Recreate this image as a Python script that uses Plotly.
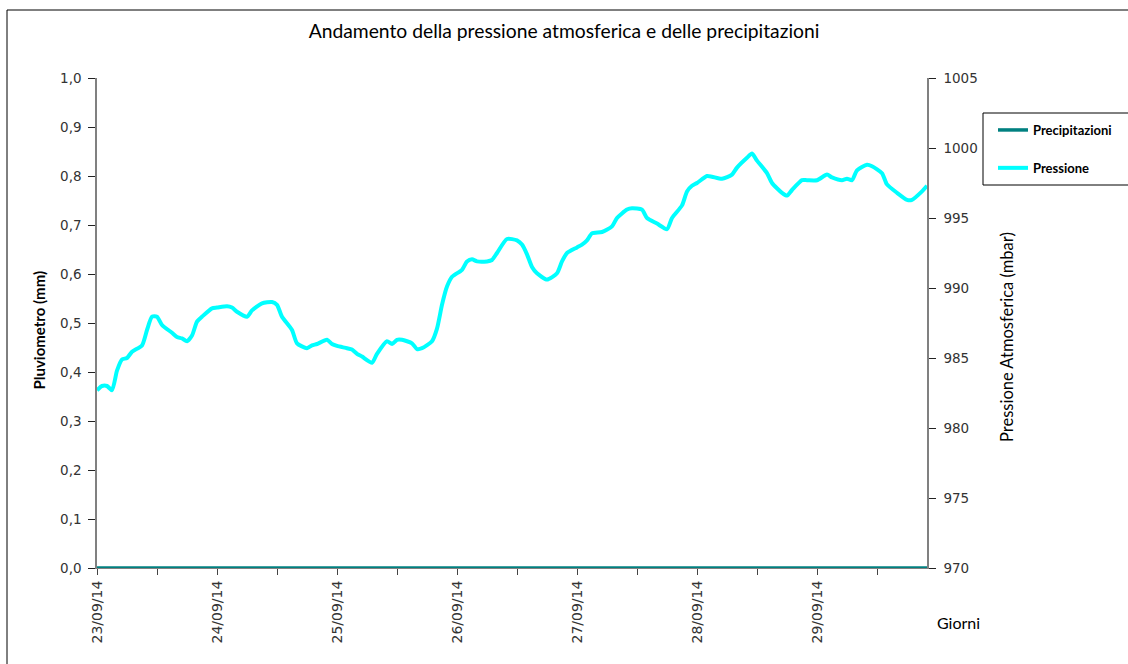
import plotly.graph_objects as go

# Hours elapsed since 23/09/14 00:00 (x positions)
hours = [0, 1, 2, 3, 4, 5, 6, 7, 9, 10, 11, 12, 13, 15, 16, 17, 18, 19, 20, 21,
         23, 24, 26, 27, 28, 30, 31, 33, 35, 36, 37, 39, 40, 42, 43, 44, 46, 47,
         48, 50, 51, 52, 53, 55, 56, 58, 59, 60, 61, 63, 64, 65, 67, 68, 69, 70,
         71, 73, 74, 75, 76, 78, 79, 80, 82, 84, 85, 86, 87, 88, 90, 92, 93, 94,
         96, 97, 98, 99, 101, 103, 104, 106, 107, 109, 110, 112, 114, 115, 117,
         118, 119, 120, 122, 123, 125, 127, 128, 130, 131, 132, 134, 135, 137,
         138, 139, 141, 142, 144, 146, 147, 149, 150, 151, 152, 154, 155, 157,
         158, 160, 162, 163, 165, 166]

pressione = [982.7, 983.0, 983.0, 982.7, 984.1, 984.9, 985.0, 985.45, 985.9, 987.0,
             987.95, 987.95, 987.36, 986.8, 986.5, 986.4, 986.2, 986.6, 987.6, 987.95,
             988.55, 988.6, 988.7, 988.6, 988.3, 987.95, 988.4, 988.9, 989.0, 988.8,
             987.95, 987.0, 986.05, 985.7, 985.9, 986.0, 986.3, 986.0, 985.86, 985.7,
             985.6, 985.3, 985.1, 984.66, 985.3, 986.2, 986.0, 986.3, 986.3, 986.05,
             985.64, 985.7, 986.2, 987.1, 988.8, 990.1, 990.8, 991.3, 991.9, 992.05,
             991.9, 991.9, 992.0, 992.5, 993.5, 993.4, 993.1, 992.4, 991.5, 991.05,
             990.6, 991.05, 991.9, 992.5, 992.9, 993.1, 993.4, 993.9, 994.0, 994.4,
             995.0, 995.6, 995.7, 995.6, 995.0, 994.6, 994.2, 995.0, 995.9, 996.9,
             997.3, 997.5, 998.0, 997.95, 997.8, 998.1, 998.6, 999.3, 999.6, 999.1,
             998.2, 997.5, 996.8, 996.6, 997.0, 997.7, 997.7, 997.7, 998.1, 997.9,
             997.7, 997.8, 997.7, 998.4, 998.8, 998.7, 998.2, 997.4, 996.8, 996.3,
             996.3, 996.9, 997.3]

precipitazioni = [0.0 for _ in hours]

tick_hours = [0, 12, 24, 36, 48, 60, 72, 84, 96, 108, 120, 132, 144, 156]
tick_labels = ["23/09/14", "", "24/09/14", "", "25/09/14", "", "26/09/14", "",
               "27/09/14", "", "28/09/14", "", "29/09/14", ""]

left_ticks = [0.0, 0.1, 0.2, 0.3, 0.4, 0.5, 0.6, 0.7, 0.8, 0.9, 1.0]
left_labels = ["0,0", "0,1", "0,2", "0,3", "0,4", "0,5", "0,6", "0,7", "0,8", "0,9", "1,0"]
right_ticks = [970, 975, 980, 985, 990, 995, 1000, 1005]

W, H = 1128, 664
L, R, T, B = 97, 201, 78, 96
pw, ph = W - L - R, H - T - B

def px(x):
    return (x - L) / pw

def py(y):
    return (H - B - y) / ph

fig = go.Figure()
fig.add_trace(go.Scatter(
    x=hours, y=precipitazioni, name="Precipitazioni", mode="lines",
    line=dict(color="#008080", width=3.5), yaxis="y", legendgroup="a"))
fig.add_trace(go.Scatter(
    x=hours, y=pressione, name="Pressione", mode="lines",
    line=dict(color="#00FFFF", width=4, shape="spline", smoothing=0.6),
    yaxis="y2", legendgroup="b"))

tickfont = dict(family="DejaVu Sans", size=13.5, color="#333333")

fig.update_layout(
    width=W, height=H,
    margin=dict(l=L, r=R, t=T, b=B, autoexpand=False),
    paper_bgcolor="white", plot_bgcolor="white",
    title=dict(text="Andamento della pressione atmosferica e delle precipitazioni",
               x=0.5, xref="container", xanchor="center",
               y=1 - 31 / H, yref="container", yanchor="middle",
               font=dict(family="Lato", size=19.3, color="black")),
    xaxis=dict(range=[0, 166], tickmode="array", tickvals=tick_hours, ticktext=tick_labels,
               tickangle=-90, ticks="outside", ticklen=6, tickcolor="#444",
               showline=True, linecolor="#808080", linewidth=1,
               showgrid=False, zeroline=False,
               tickfont=dict(family="DejaVu Sans", size=14, color="#333333")),
    yaxis=dict(range=[0, 1], tickmode="array", tickvals=left_ticks, ticktext=left_labels,
               ticks="outside", ticklen=7, tickcolor="#222", ticklabelstandoff=4,
               showline=True, linecolor="#808080", linewidth=1.5,
               showgrid=False, zeroline=False, tickfont=tickfont),
    yaxis2=dict(range=[970, 1005], overlaying="y", side="right",
                tickmode="array", tickvals=right_ticks,
                ticks="outside", ticklen=7, tickcolor="#222", ticklabelstandoff=5,
                showline=True, linecolor="#808080", linewidth=1.5,
                showgrid=False, zeroline=False, tickfont=tickfont),
    legend=dict(x=px(993), y=py(115), xanchor="left", yanchor="top",
                borderwidth=0, bgcolor="rgba(0,0,0,0)",
                traceorder="grouped", tracegroupgap=18,
                font=dict(family="Lato", size=13, color="black", weight="bold")),
    showlegend=True,
)

# axis titles
fig.add_annotation(text="<b>Pluviometro (mm)</b>", xref="paper", yref="paper",
                   x=px(38.5), y=py(330), textangle=-90, showarrow=False,
                   xanchor="center", yanchor="middle",
                   font=dict(family="Lato", size=15, color="black"))
fig.add_annotation(text="Pressione Atmosferica (mbar)", xref="paper", yref="paper",
                   x=px(1007), y=py(337), textangle=-90, showarrow=False,
                   xanchor="center", yanchor="middle",
                   font=dict(family="Lato", size=16.5, color="black"))
fig.add_annotation(text="Giorni", xref="paper", yref="paper", x=px(935), y=py(622),
                   xanchor="left", yanchor="middle", showarrow=False,
                   font=dict(family="Lato", size=16, color="black"))

# legend box
fig.add_shape(type="rect", xref="paper", yref="paper", x0=px(983), x1=px(1140),
              y0=py(185), y1=py(113), line=dict(color="black", width=1), layer="below")

# chart frame
fig.add_shape(type="line", xref="paper", yref="paper", x0=px(7), x1=px(7), y0=py(10), y1=py(670),
              line=dict(color="black", width=1))
fig.add_shape(type="line", xref="paper", yref="paper", x0=px(7), x1=px(1135), y0=py(10), y1=py(10),
              line=dict(color="black", width=1))

fig.write_html("out.html", config={"displayModeBar": False},
               post_script="document.body.style.margin='0';")
